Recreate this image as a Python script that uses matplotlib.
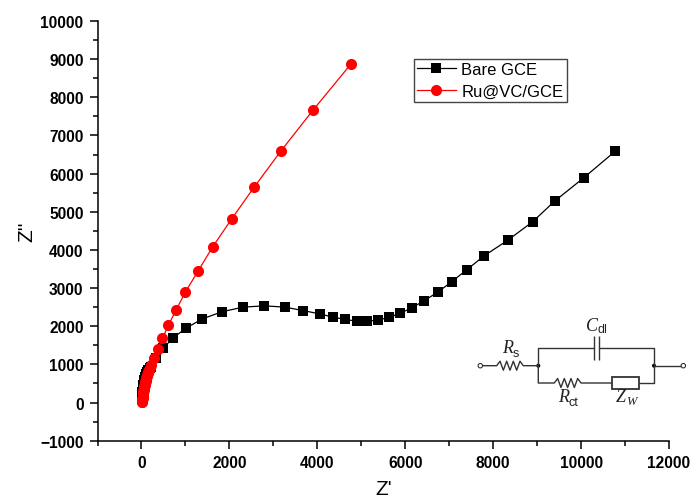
import matplotlib
matplotlib.use('Agg')
import matplotlib.pyplot as plt
from matplotlib.patches import Rectangle, Circle

plt.rcParams['font.family'] = ['Liberation Sans', 'DejaVu Sans']

# data
bare_x = [10, 12, 15, 18, 22, 27, 33, 40, 50, 62, 78, 98, 122, 150, 185, 227, 341, 493, 712, 1015, 1379, 1834,
          2310, 2795, 3265, 3680, 4070, 4350, 4630, 4900, 5130, 5370, 5630, 5880, 6150, 6430, 6750, 7060,
          7400, 7800, 8340, 8900, 9400, 10060, 10770]
bare_y = [90, 130, 180, 230, 280, 340, 400, 460, 530, 600, 670, 740, 800, 860, 900, 940, 1166, 1420, 1690, 1950, 2190, 2380,
          2500, 2535, 2500, 2410, 2320, 2240, 2180, 2130, 2130, 2160, 2230, 2340, 2480, 2670, 2900, 3170,
          3480, 3850, 4260, 4740, 5280, 5890, 6580]
ru_x = [15, 16, 17, 19, 20, 22, 24, 26, 28, 30, 33, 36, 39, 42, 46, 50, 55, 60, 65, 71, 77, 84, 92, 100, 110, 120,
        130, 142, 155, 172, 190, 227, 280, 371, 477, 614, 788,
        1000, 1290, 1620, 2050, 2560, 3170, 3900, 4770]
ru_y = [10, 25, 40, 58, 75, 95, 115, 138, 160, 182, 205, 230, 255, 282, 310, 340, 370, 400, 430, 465, 500, 535, 570,
        610, 650, 690, 730, 770, 810, 855, 900, 980, 1160, 1400, 1680, 2030, 2425,
        2900, 3450, 4080, 4810, 5640, 6590, 7660, 8880]
x_ticks = [0, 2000, 4000, 6000, 8000, 10000, 12000]
y_ticks = [-1000, 0, 1000, 2000, 3000, 4000, 5000, 6000, 7000, 8000, 9000, 10000]
W, H = 691, 502


def zigzag(x0, x1, y, amp):
    n = 8
    step = (x1 - x0) / n
    xs = [x0 + i * step for i in range(n + 1)]
    ys = [y] + [y + (amp if i % 2 else -amp) for i in range(n - 1)] + [y]
    return xs, ys


fig = plt.figure(figsize=(W / 100, H / 100), dpi=100)
ax = fig.add_axes([97.5 / W, 1 - 441.7 / H, (669 - 97.5) / W, (441.7 - 22) / H])
ax.plot(bare_x, bare_y, color='black', lw=0.9, marker='s', ms=7.2, mew=0, label='Bare GCE')
ax.plot(ru_x, ru_y, color='red', lw=0.9, marker='o', ms=8, mew=0, label='Ru@VC/GCE')

ax.set_xlim(-1000, 12000)
ax.set_ylim(-1000, 10000)
ax.set_xticks(x_ticks)
ax.set_xticks([-1000, 1000, 3000, 5000, 7000, 9000, 11000], minor=True)
ax.set_yticks(y_ticks)
ax.set_yticks([v + 500 for v in y_ticks[:-1]], minor=True)
ax.spines['top'].set_visible(False)
ax.spines['right'].set_visible(False)
ax.spines['left'].set_linewidth(1.1)
ax.spines['bottom'].set_linewidth(1.1)
ax.tick_params(which='major', length=6, width=1.1, labelsize=11.2, pad=4)
ax.tick_params(which='minor', length=3.5, width=1.1)
for lab in ax.get_xticklabels() + ax.get_yticklabels():
    lab.set_fontweight('bold')
ax.set_xlabel("Z'", fontsize=15, labelpad=7)
ax.set_ylabel("Z''", fontsize=15, labelpad=3)

leg = ax.legend(loc='upper left', bbox_to_anchor=(413.5 / W, 1 - 59.5 / H), bbox_transform=fig.transFigure,
                fontsize=12, fancybox=False, framealpha=1, edgecolor='#444444', borderaxespad=0,
                handlelength=2.3, handletextpad=0.35, labelspacing=0.38, borderpad=0.22, numpoints=1)
leg.get_frame().set_linewidth(1.0)

# equivalent circuit, drawn in picture pixels
cx = fig.add_axes([0, 0, 1, 1], facecolor='none')
cx.set_xlim(0, W)
cx.set_ylim(H, 0)
cx.axis('off')
wire = dict(color='#333333', lw=1.0, solid_capstyle='butt')
xs, ys = zigzag(496.7, 523.3, 366.7, 4.5)
cx.plot([483, 496.7] + xs[1:] + [538.3], [366.7, 366.7] + ys[1:] + [366.7], **wire)
cx.plot([538.3, 538.3, 594.3], [366.7, 348.7, 348.7], **wire)
cx.plot([598.7, 654, 654], [348.7, 348.7, 366.7], **wire)
cx.plot([594.3, 594.3], [337.3, 360.7], **wire)
cx.plot([598.7, 598.7], [337.3, 360.7], **wire)
xs, ys = zigzag(554.3, 581, 384, 4.5)
cx.plot([538.3, 538.3, 554.3] + xs[1:] + [612], [366.7, 384, 384] + ys[1:] + [384], **wire)
cx.plot([638.7, 654, 654], [384, 384, 366.7], **wire)
cx.plot([654, 681], [366.7, 366.7], **wire)
cx.add_patch(Rectangle((612, 378), 26.7, 12, fc='white', ec='#333333', lw=1.3))
cx.add_patch(Circle((480.3, 366.7), 2.2, fc='white', ec='#333333', lw=0.8))
cx.add_patch(Circle((683.3, 366.7), 2.2, fc='white', ec='#333333', lw=0.8))
cx.add_patch(Circle((538.3, 366.7), 2, fc='black', ec='none'))
cx.add_patch(Circle((654, 366.7), 2, fc='black', ec='none'))
serif = dict(family='Liberation Serif', style='italic', color='#222222', fontsize=13, va='center', ha='left')
sans = dict(color='#222222', fontsize=9, va='center', ha='left')
cx.text(502, 349, 'R', **serif)
cx.text(512.5, 354, 's', **sans)
cx.text(586.5, 326.5, 'C', **serif)
cx.text(598, 330.5, 'dl', **sans)
cx.text(558.5, 398, 'R', **serif)
cx.text(569, 403, 'ct', **sans)
cx.text(615.5, 398, 'Z', **serif)
cx.text(626.5, 402, 'W', family='Liberation Serif', style='italic', color='#222222', fontsize=9, va='center', ha='left')

fig.savefig('out.png', dpi=100)
